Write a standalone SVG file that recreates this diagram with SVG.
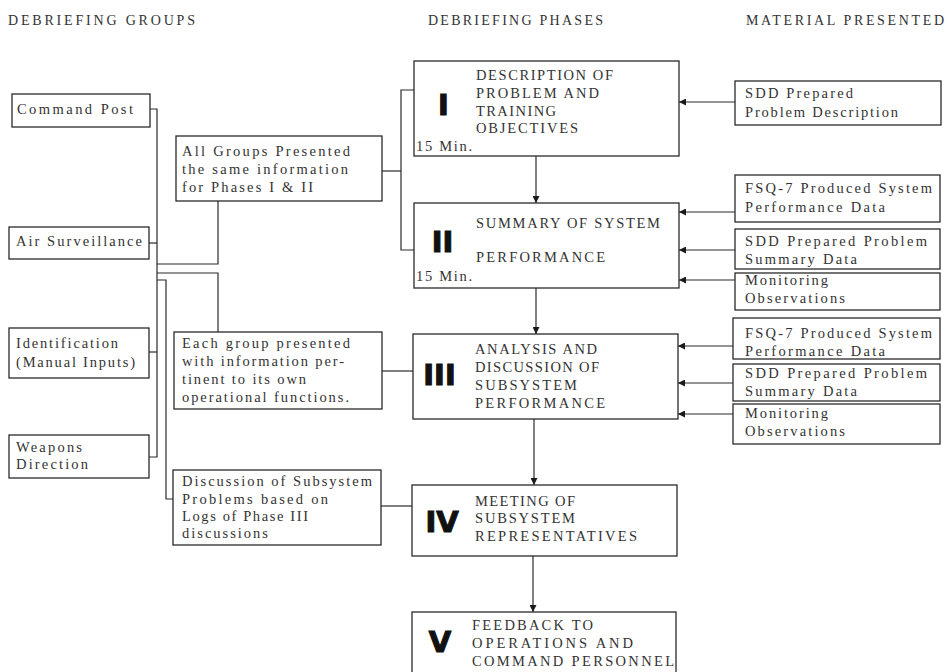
<svg xmlns="http://www.w3.org/2000/svg" width="948" height="672" viewBox="0 0 948 672">
  <style>
    .bg { fill: #ffffff; }
    .box { fill: #ffffff; stroke: #2a2a2a; stroke-width: 1.3; }
    .ln { fill: none; stroke: #2a2a2a; stroke-width: 1.2; }
    .t { font-family: "Liberation Serif", "DejaVu Serif", serif; font-size: 14.5px; fill: #333333; }
    .hd { font-family: "Liberation Serif", "DejaVu Serif", serif; font-size: 14px; fill: #333333; }
    .num { font-family: "DejaVu Sans", "Liberation Sans", sans-serif; font-weight: bold; font-size: 29px; fill: #111111; stroke: #111111; stroke-width: 1.1; text-anchor: middle; }
  </style>
  <defs>
    <marker id="arrow" viewBox="0 0 10 10" refX="10" refY="5" markerWidth="7" markerHeight="7" markerUnits="userSpaceOnUse" orient="auto">
      <path d="M0,0 L10,5 L0,10 z" fill="#1a1a1a"/>
    </marker>
  </defs>

  <rect class="bg" x="0" y="0" width="948" height="672"/>

  <!-- column headings -->
  <g id="headings">
    <text class="hd" x="8" y="25" textLength="187" lengthAdjust="spacing">DEBRIEFING GROUPS</text>
    <text class="hd" x="428" y="25" textLength="175" lengthAdjust="spacing">DEBRIEFING PHASES</text>
    <text class="hd" x="746" y="25" textLength="198" lengthAdjust="spacing">MATERIAL PRESENTED</text>
  </g>

  <!-- connectors -->
  <g id="connectors">
    <!-- debriefing groups to common trunk -->
    <path class="ln" d="M150,109 H157 V457 H149"/>
    <path class="ln" d="M149,243 H157"/>
    <path class="ln" d="M149,352 H157"/>
    <path class="ln" d="M157,264 H218 V201"/>
    <path class="ln" d="M157,273 H218 V332"/>
    <path class="ln" d="M157,280 H166 V499 H173"/>
    <!-- notes to phases -->
    <path class="ln" d="M382,171 H401"/>
    <path class="ln" d="M414,90 H401 V250 H414"/>
    <path class="ln" d="M382,371 H413"/>
    <path class="ln" d="M381,506 H412"/>
    <!-- phase sequence -->
    <line class="ln" x1="536" y1="156" x2="536" y2="203" marker-end="url(#arrow)"/>
    <line class="ln" x1="536" y1="288" x2="536" y2="334" marker-end="url(#arrow)"/>
    <line class="ln" x1="534" y1="419" x2="534" y2="485" marker-end="url(#arrow)"/>
    <line class="ln" x1="533" y1="556" x2="533" y2="612" marker-end="url(#arrow)"/>
    <!-- material into phases -->
    <line class="ln" x1="735" y1="102" x2="679" y2="102" marker-end="url(#arrow)"/>
    <line class="ln" x1="735" y1="212" x2="679" y2="212" marker-end="url(#arrow)"/>
    <line class="ln" x1="735" y1="250" x2="679" y2="250" marker-end="url(#arrow)"/>
    <line class="ln" x1="735" y1="280" x2="679" y2="280" marker-end="url(#arrow)"/>
    <line class="ln" x1="733" y1="346" x2="678" y2="346" marker-end="url(#arrow)"/>
    <line class="ln" x1="733" y1="383" x2="678" y2="383" marker-end="url(#arrow)"/>
    <line class="ln" x1="733" y1="414" x2="678" y2="414" marker-end="url(#arrow)"/>
  </g>

  <!-- debriefing groups -->
  <g id="command-post">
    <rect class="box" x="12" y="94" width="138" height="33"/>
    <text class="t" x="17" y="114" textLength="116" lengthAdjust="spacing">Command Post</text>
  </g>
  <g id="air-surveillance">
    <rect class="box" x="9" y="227" width="140" height="32"/>
    <text class="t" x="16" y="246" textLength="126" lengthAdjust="spacing">Air Surveillance</text>
  </g>
  <g id="identification">
    <rect class="box" x="9" y="328" width="140" height="50"/>
    <text class="t" x="16" y="348" textLength="102" lengthAdjust="spacing">Identification</text>
    <text class="t" x="16" y="367" textLength="119" lengthAdjust="spacing">(Manual Inputs)</text>
  </g>
  <g id="weapons-direction">
    <rect class="box" x="9" y="435" width="140" height="43"/>
    <text class="t" x="16" y="452" textLength="66" lengthAdjust="spacing">Weapons</text>
    <text class="t" x="16" y="469" textLength="72" lengthAdjust="spacing">Direction</text>
  </g>

  <!-- notes on what each group receives -->
  <g id="note-all-groups">
    <rect class="box" x="176" y="136" width="206" height="65"/>
    <text class="t" x="182" y="156" textLength="168" lengthAdjust="spacing">All Groups Presented</text>
    <text class="t" x="182" y="174" textLength="166" lengthAdjust="spacing">the same information</text>
    <text class="t" x="182" y="192" textLength="131" lengthAdjust="spacing">for Phases I &amp; II</text>
  </g>
  <g id="note-each-group">
    <rect class="box" x="174" y="332" width="208" height="77"/>
    <text class="t" x="182" y="348" textLength="168" lengthAdjust="spacing">Each group presented</text>
    <text class="t" x="182" y="366" textLength="162" lengthAdjust="spacing">with information per-</text>
    <text class="t" x="182" y="384" textLength="124" lengthAdjust="spacing">tinent to its own</text>
    <text class="t" x="182" y="402" textLength="167" lengthAdjust="spacing">operational functions.</text>
  </g>
  <g id="note-discussion">
    <rect class="box" x="173" y="470" width="208" height="75"/>
    <text class="t" x="182" y="486" textLength="190" lengthAdjust="spacing">Discussion of Subsystem</text>
    <text class="t" x="182" y="504" textLength="146" lengthAdjust="spacing">Problems based on</text>
    <text class="t" x="182" y="521" textLength="126" lengthAdjust="spacing">Logs of Phase III</text>
    <text class="t" x="182" y="538" textLength="86" lengthAdjust="spacing">discussions</text>
  </g>

  <!-- debriefing phases -->
  <g id="phase-1">
    <rect class="box" x="414" y="61" width="265" height="95"/>
    <text class="num" x="443.5" y="115">I</text>
    <text class="t" x="476" y="80" textLength="137" lengthAdjust="spacing">DESCRIPTION OF</text>
    <text class="t" x="476" y="98" textLength="123" lengthAdjust="spacing">PROBLEM AND</text>
    <text class="t" x="476" y="116" textLength="80" lengthAdjust="spacing">TRAINING</text>
    <text class="t" x="476" y="133" textLength="102" lengthAdjust="spacing">OBJECTIVES</text>
    <text class="t" x="416" y="151" textLength="56" lengthAdjust="spacing">15 Min.</text>
  </g>
  <g id="phase-2">
    <rect class="box" x="414" y="203" width="265" height="85"/>
    <text class="num" x="442.5" y="252">II</text>
    <text class="t" x="476" y="228" textLength="184" lengthAdjust="spacing">SUMMARY OF SYSTEM</text>
    <text class="t" x="476" y="262" textLength="129" lengthAdjust="spacing">PERFORMANCE</text>
    <text class="t" x="416" y="281" textLength="56" lengthAdjust="spacing">15 Min.</text>
  </g>
  <g id="phase-3">
    <rect class="box" x="413" y="334" width="265" height="85"/>
    <text class="num" x="439.5" y="385">III</text>
    <text class="t" x="475" y="354" textLength="122" lengthAdjust="spacing">ANALYSIS AND</text>
    <text class="t" x="475" y="372" textLength="124" lengthAdjust="spacing">DISCUSSION OF</text>
    <text class="t" x="475" y="390" textLength="102" lengthAdjust="spacing">SUBSYSTEM</text>
    <text class="t" x="475" y="408" textLength="130" lengthAdjust="spacing">PERFORMANCE</text>
  </g>
  <g id="phase-4">
    <rect class="box" x="412" y="485" width="265" height="71"/>
    <text class="num" x="442" y="532">IV</text>
    <text class="t" x="475" y="506" textLength="100" lengthAdjust="spacing">MEETING OF</text>
    <text class="t" x="475" y="523" textLength="100" lengthAdjust="spacing">SUBSYSTEM</text>
    <text class="t" x="475" y="541" textLength="162" lengthAdjust="spacing">REPRESENTATIVES</text>
  </g>
  <g id="phase-5">
    <rect class="box" x="412" y="612" width="264" height="80"/>
    <text class="num" x="440" y="652">V</text>
    <text class="t" x="472" y="630" textLength="121" lengthAdjust="spacing">FEEDBACK TO</text>
    <text class="t" x="472" y="648" textLength="161" lengthAdjust="spacing">OPERATIONS AND</text>
    <text class="t" x="472" y="666" textLength="202" lengthAdjust="spacing">COMMAND PERSONNEL</text>
  </g>

  <!-- material presented -->
  <g id="material-problem-description">
    <rect class="box" x="735" y="81" width="206" height="44"/>
    <text class="t" x="745" y="98" textLength="108" lengthAdjust="spacing">SDD Prepared</text>
    <text class="t" x="745" y="117" textLength="153" lengthAdjust="spacing">Problem Description</text>
  </g>
  <g id="material-fsq7-phase2">
    <rect class="box" x="735" y="175" width="205" height="47"/>
    <text class="t" x="745" y="193" textLength="187" lengthAdjust="spacing">FSQ-7 Produced System</text>
    <text class="t" x="745" y="212" textLength="140" lengthAdjust="spacing">Performance Data</text>
  </g>
  <g id="material-summary-phase2">
    <rect class="box" x="735" y="229" width="205" height="40"/>
    <text class="t" x="745" y="246" textLength="182" lengthAdjust="spacing">SDD Prepared Problem</text>
    <text class="t" x="745" y="264" textLength="112" lengthAdjust="spacing">Summary Data</text>
  </g>
  <g id="material-monitoring-phase2">
    <rect class="box" x="735" y="273" width="205" height="37"/>
    <text class="t" x="745" y="285" textLength="83" lengthAdjust="spacing">Monitoring</text>
    <text class="t" x="745" y="303" textLength="100" lengthAdjust="spacing">Observations</text>
  </g>
  <g id="material-fsq7-phase3">
    <rect class="box" x="733" y="318" width="207" height="41"/>
    <text class="t" x="745" y="338" textLength="187" lengthAdjust="spacing">FSQ-7 Produced System</text>
    <text class="t" x="745" y="356" textLength="140" lengthAdjust="spacing">Performance Data</text>
  </g>
  <g id="material-summary-phase3">
    <rect class="box" x="733" y="364" width="207" height="37"/>
    <text class="t" x="745" y="378" textLength="182" lengthAdjust="spacing">SDD Prepared Problem</text>
    <text class="t" x="745" y="396" textLength="112" lengthAdjust="spacing">Summary Data</text>
  </g>
  <g id="material-monitoring-phase3">
    <rect class="box" x="733" y="404" width="207" height="40"/>
    <text class="t" x="745" y="418" textLength="83" lengthAdjust="spacing">Monitoring</text>
    <text class="t" x="745" y="436" textLength="100" lengthAdjust="spacing">Observations</text>
  </g>
</svg>
